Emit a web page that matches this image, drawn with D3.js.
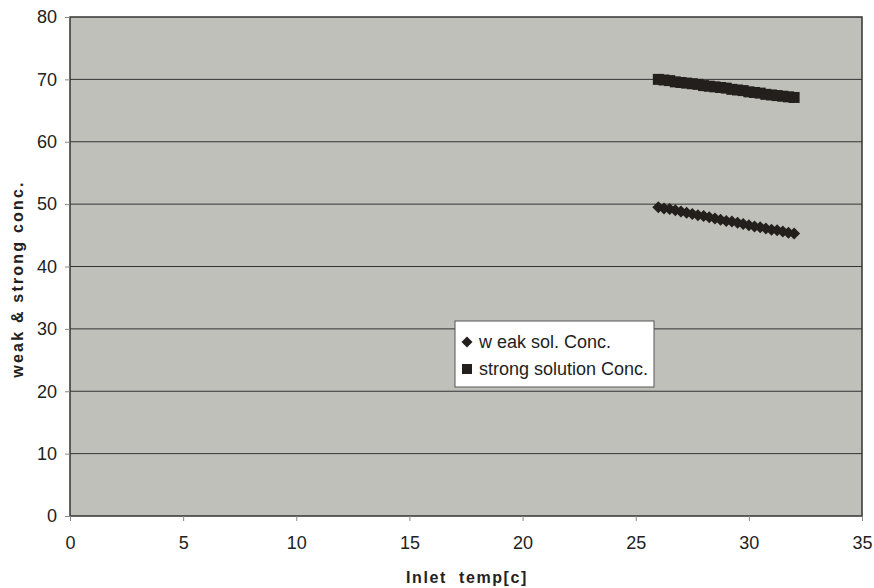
<!DOCTYPE html>
<html>
<head>
<meta charset="utf-8">
<script src="https://cdn.jsdelivr.net/npm/d3@7"></script>
<style>
  body { margin: 0; background: #fff; }
  svg text { font-family: "Liberation Sans", Arial, sans-serif; fill: #222; }
</style>
</head>
<body>
<div id="chart"></div>
<script>
// inlet temperature [c]
var temps = [26, 26.25, 26.5, 26.75, 27, 27.25, 27.5, 27.75, 28, 28.25, 28.5, 28.75, 29,
  29.25, 29.5, 29.75, 30, 30.25, 30.5, 30.75, 31, 31.25, 31.5, 31.75, 32];
var weakConc = [49.5, 49.3, 49.2, 49.0, 48.8, 48.6, 48.4, 48.2, 48.1, 47.9, 47.7, 47.5, 47.3,
  47.2, 47.0, 46.8, 46.6, 46.4, 46.3, 46.1, 45.9, 45.8, 45.6, 45.4, 45.3];
var strongConc = [70.0, 69.9, 69.8, 69.6, 69.5, 69.4, 69.3, 69.2, 69.0, 68.9, 68.8, 68.7, 68.6,
  68.4, 68.3, 68.2, 68.0, 67.9, 67.8, 67.6, 67.5, 67.4, 67.3, 67.2, 67.1];
var xTicks = [0, 5, 10, 15, 20, 25, 30, 35];
var yTicks = [0, 10, 20, 30, 40, 50, 60, 70, 80];
var seriesNames = ["w eak sol. Conc.", "strong solution Conc."];

var W = 874, H = 588;
var margin = { top: 17, right: 12, bottom: 72, left: 70 };
var iw = W - margin.left - margin.right, ih = H - margin.top - margin.bottom;

var svg = d3.select("#chart").append("svg").attr("width", W).attr("height", H);
var g = svg.append("g").attr("transform", `translate(${margin.left},${margin.top})`);

var x = d3.scaleLinear().domain([0, 35]).range([0, iw]);
var y = d3.scaleLinear().domain([0, 80]).range([ih, 0]);

g.append("rect").attr("width", iw).attr("height", ih).attr("fill", "#c0c0bb");

// gridlines
g.append("g").selectAll("line").data(yTicks.filter(d => d > 0 && d < 80)).join("line")
  .attr("x1", 0).attr("x2", iw)
  .attr("y1", d => y(d)).attr("y2", d => y(d))
  .attr("stroke", "#333").attr("stroke-width", 1);

g.append("rect").attr("width", iw).attr("height", ih)
  .attr("fill", "none").attr("stroke", "#333").attr("stroke-width", 1.5);

var xAxis = g.append("g").attr("transform", `translate(0,${ih})`)
  .call(d3.axisBottom(x).tickValues(xTicks).tickSize(5).tickPadding(15));
var yAxis = g.append("g")
  .call(d3.axisLeft(y).tickValues(yTicks).tickSize(5).tickPadding(8));
[xAxis, yAxis].forEach(a => {
  a.attr("font-size", null);
  a.select(".domain").remove();
  a.selectAll("line").attr("stroke", "#888");
  a.selectAll("text").style("font-size", "18px").attr("fill", "#222");
});

// diamond as a rotated square
function diamondPath(r) {
  return `M0,${-r}L${r},0L0,${r}L${-r},0Z`;
}

g.append("g").selectAll("path").data(temps).join("path")
  .attr("transform", (d, i) => `translate(${x(d)},${y(weakConc[i])})`)
  .attr("d", diamondPath(6)).attr("fill", "#231f1c");

g.append("g").selectAll("rect").data(temps).join("rect")
  .attr("x", d => x(d) - 5.5)
  .attr("y", (d, i) => y(strongConc[i]) - 5.5)
  .attr("width", 11).attr("height", 11)
  .attr("fill", "#231f1c");

// axis titles
svg.append("text")
  .attr("x", 467).attr("y", 583)
  .attr("text-anchor", "middle")
  .attr("xml:space", "preserve")
  .style("font-size", "16px").style("font-weight", "bold").style("letter-spacing", "1.6px")
  .text("Inlet  temp[c]");

svg.append("text")
  .attr("transform", `translate(23,279) rotate(-90)`)
  .attr("text-anchor", "middle")
  .style("font-size", "16px").style("font-weight", "bold").style("letter-spacing", "2.2px")
  .text("weak & strong conc.");

// legend
var lg = svg.append("g").attr("transform", "translate(455,321)");
lg.append("rect").attr("width", 199).attr("height", 66)
  .attr("fill", "#fff").attr("stroke", "#555").attr("stroke-width", 1);
lg.append("path").attr("d", diamondPath(5.5))
  .attr("transform", "translate(12,21)").attr("fill", "#231f1c");
lg.append("rect").attr("x", 7).attr("y", 43).attr("width", 10).attr("height", 10).attr("fill", "#231f1c");
lg.selectAll("text.lbl").data(seriesNames).join("text").attr("class", "lbl")
  .attr("x", 24).attr("y", (d, i) => 27 + i * 27)
  .style("font-size", "18px")
  .text(d => d);
</script>
</body>
</html>
